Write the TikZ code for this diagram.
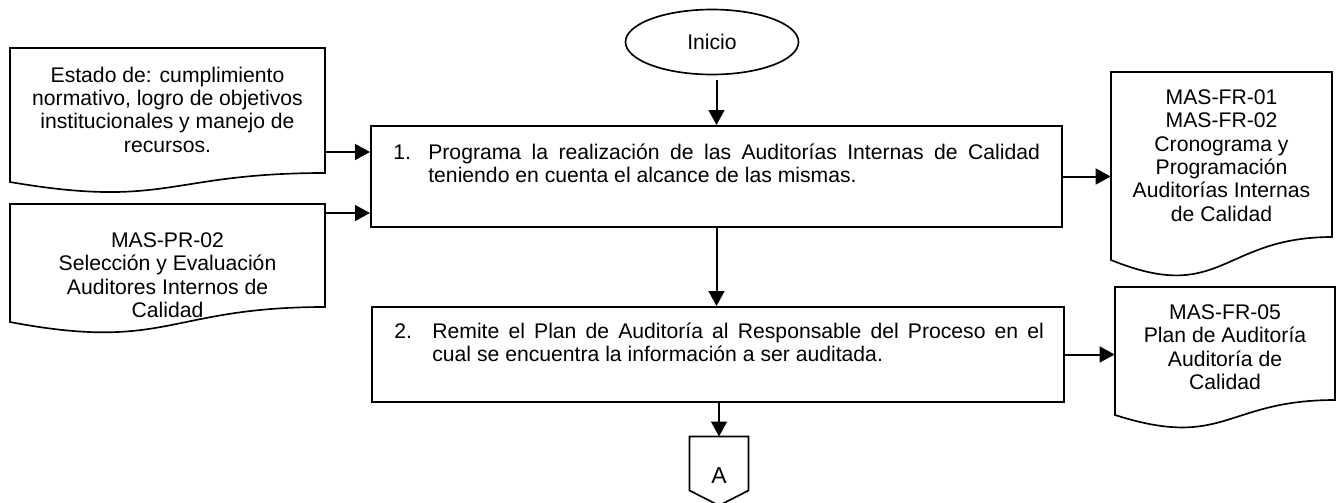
\documentclass[tikz,border=0pt]{standalone}
\usepackage{fontspec}
\setmainfont{Liberation Sans}
\usetikzlibrary{arrows.meta,shapes.geometric,fit}
\begin{document}
\begin{tikzpicture}[x=0.6pt,y=-0.6pt,
  every node/.style={font=\fontsize{12.7pt}{14pt}\selectfont},
  stepbox/.style={draw, line width=1.2pt, inner sep=0},
  docline/.style={draw, line width=1pt},
  ghost/.style={inner sep=0, draw=none},
  arr/.style={-{Triangle[length=9pt,width=9.5pt]}, line width=1.2pt},
  txt/.style={inner sep=0, anchor=base}]
\useasboundingbox (0,0) rectangle (1341,502);

% start
\node[draw, line width=1pt, ellipse, minimum width=103.8pt, minimum height=39pt, inner sep=0] (ini) at (712,42) {Inicio};

% step 1
\node[stepbox, minimum width=414.6pt, minimum height=60.6pt] (b1) at (716.5,176.5) {};
\node[txt, anchor=base west] (t1) at (393,159.5) {\begin{tabular}[t]{@{}l@{}l@{}}\makebox[21pt][l]{1.}&\makebox[367pt][s]{Programa la realización de las Auditorías Internas de Calidad}\\ &teniendo en cuenta el alcance de las mismas.\end{tabular}};

% step 2
\node[stepbox, minimum width=415.2pt, minimum height=57pt] (b2) at (718,354.5) {};
\node[txt, anchor=base west] (t2) at (394,338.5) {\begin{tabular}[t]{@{}l@{}l@{}}\makebox[22.8pt][l]{2.}&\makebox[367pt][s]{Remite el Plan de Auditoría al Responsable del Proceso en el}\\ &cual se encuentra la información a ser auditada.\end{tabular}};

% document A
\draw[docline] (10,48) -- (325,48) -- (325,173) .. controls (167.5,173) and (167.5,209) .. (10,182) -- cycle;
\node[ghost, fit={(10,48)(325,182)}] (dA) {};
\node[txt] (tA) at (167.5,82) {\begin{tabular}[t]{@{}c@{}}Estado de: cumplimiento\\normativo, logro de objetivos\\institucionales y manejo de\\recursos.\end{tabular}};

% document B
\draw[docline] (10,204) -- (325,204) -- (325,307) .. controls (167.5,307) and (167.5,352) .. (10,322) -- cycle;
\node[ghost, fit={(10,204)(325,322)}] (dB) {};
\begin{scope}
\clip (10,204) rectangle (325,318);
\node[txt] (tB) at (167.5,247.5) {\begin{tabular}[t]{@{}c@{}}MAS-PR-02\\Selección y Evaluación\\Auditores Internos de\\Calidad\end{tabular}};
\end{scope}

% document R1
\draw[docline] (1111,72) -- (1332,72) -- (1332,237) .. controls (1221.5,237) and (1221.5,305) .. (1111,260) -- cycle;
\node[ghost, fit={(1111,72)(1332,260)}] (dR1) {};
\node[txt] (tR1) at (1221.5,104.5) {\begin{tabular}[t]{@{}c@{}}MAS-FR-01\\MAS-FR-02\\Cronograma y\\Programación\\Auditorías Internas\\de Calidad\end{tabular}};

% document R2
\draw[docline] (1115,287) -- (1335,287) -- (1335,400) .. controls (1225,400) and (1225,450) .. (1115,415) -- cycle;
\node[ghost, fit={(1115,287)(1335,415)}] (dR2) {};
\node[txt] (tR2) at (1225,319.5) {\begin{tabular}[t]{@{}c@{}}MAS-FR-05\\Plan de Auditoría\\Auditoría de\\Calidad\end{tabular}};

% off-page connector A
\node[ghost, minimum width=35pt, minimum height=32pt] (A) at (719,463.5) {};
\draw[docline] (A.north west) -- (A.north east) -- (A.south east) -- ([yshift=-9pt]A.south) -- (A.south west) -- cycle;
\node[txt, font=\fontsize{13.8pt}{15pt}\selectfont] (tAc) at (719,483.5) {A};

% connectors
\coordinate (yA) at (0,152);
\coordinate (yB) at (0,213);
\draw[arr] ([yshift=-3pt]ini.south -| b1.north) -- (b1.north);
\draw[arr] (dA.east |- yA) -- (b1.west |- yA);
\draw[arr] (dB.east |- yB) -- (b1.west |- yB);
\draw[arr] (b1.east) -- (dR1.west |- b1.east);
\draw[arr] (b1.south) -- (b1.south |- b2.north);
\draw[arr] (b2.east) -- (dR2.west |- b2.east);
\draw[arr] (b2.south -| A.north) -- (A.north);
\end{tikzpicture}
\end{document}
